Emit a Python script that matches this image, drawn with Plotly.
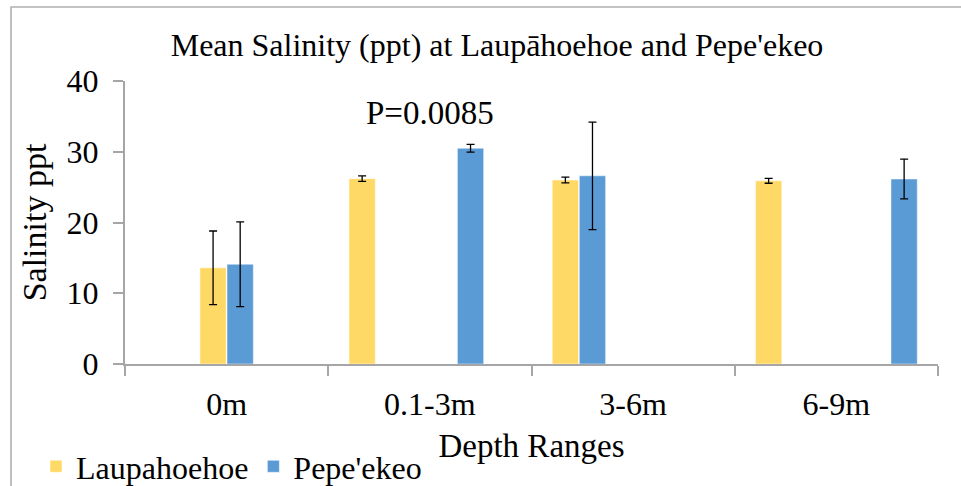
import plotly.graph_objects as go

# ---- data ----
categories = ["0m", "0.1-3m", "3-6m", "6-9m"]
laup_mean = [13.6, 26.2, 26.0, 25.9]
laup_err = [5.2, 0.4, 0.4, 0.35]
pepe_mean = [14.1, 30.5, 26.6, 26.15]
pepe_err = [6.0, 0.55, 7.6, 2.8]
# original Excel chart used 6 series slots; which slot each site's bar occupies per category
laup_slot = [2, 0, 0, 0]
pepe_slot = [3, 4, 1, 5]
n_slots = 6
y_ticks = [0, 10, 20, 30, 40]

YELLOW = "#FFD966"
BLUE = "#5B9BD5"
AXIS = "#A6A6A6"
FONT = "Liberation Serif"

fig = go.Figure()
legend_done = {"L": False, "P": False}
for s in range(n_slots):
    ys, es = [], []
    color = None
    site = None
    for i in range(len(categories)):
        if laup_slot[i] == s:
            ys.append(laup_mean[i]); es.append(laup_err[i]); color = YELLOW; site = "L"
        elif pepe_slot[i] == s:
            ys.append(pepe_mean[i]); es.append(pepe_err[i]); color = BLUE; site = "P"
        else:
            ys.append(None); es.append(None)
    name = "Laupahoehoe" if site == "L" else "Pepe'ekeo"
    show = not legend_done[site]
    legend_done[site] = True
    fig.add_trace(go.Bar(
        x=categories, y=ys, name=name, legendgroup=site, showlegend=show,
        marker=dict(color=color, line=dict(color="rgba(255,255,255,0.6)", width=0.8)),
        error_y=dict(type="data", array=es, visible=True, color="black", thickness=1.3, width=4),
        legendrank=1 if site == "L" else 2,
    ))

fig.add_annotation(x="0.1-3m", y=35.5, text="P=0.0085", showarrow=False,
                   font=dict(family=FONT, size=33, color="black"), xanchor="center", yanchor="middle")

# outer chart border (Excel chart area)
fig.add_shape(type="rect", xref="paper", yref="paper",
              x0=(11 - 125) / 813, x1=1.2, y0=-0.8, y1=(364 - 7) / 283,
              line=dict(color="#B0B0B0", width=1.6), fillcolor="rgba(0,0,0,0)", layer="below")

fig.update_layout(
    width=961, height=486,
    margin=dict(l=125, r=23, t=81, b=122, autoexpand=False),
    paper_bgcolor="white", plot_bgcolor="white",
    barmode="group", bargap=0.2, bargroupgap=0.03,
    font=dict(family=FONT, color="black", size=32),
    title=dict(text="Mean Salinity (ppt) at Laupāhoehoe and Pepe'ekeo",
               x=497 / 961, xref="container", xanchor="center",
               y=1 - 45 / 486, yref="container", yanchor="middle",
               font=dict(family=FONT, size=32, color="black")),
    showlegend=True,
    legend=dict(orientation="h", x=(36 - 125) / 813, y=(364 - 439) / 283,
                xanchor="left", yanchor="top", font=dict(family=FONT, size=32),
                bgcolor="rgba(0,0,0,0)", itemwidth=30, traceorder="normal"),
)
fig.update_xaxes(
    showline=True, linecolor=AXIS, linewidth=2, ticks="outside", tickson="boundaries",
    ticklen=10, tickcolor=AXIS, tickwidth=1.5, showgrid=False, automargin=False,
    tickfont=dict(family=FONT, size=32), ticklabelstandoff=11,
    title=dict(text="Depth Ranges", font=dict(family=FONT, size=33), standoff=12),
)
fig.update_yaxes(
    range=[0, 40], tickvals=y_ticks, showline=True, linecolor=AXIS, linewidth=2,
    ticks="outside", ticklen=10, tickcolor=AXIS, tickwidth=1.5, showgrid=False, zeroline=False,
    tickfont=dict(family=FONT, size=32), ticklabelstandoff=8, automargin=False,
    title=dict(text="Salinity ppt", font=dict(family=FONT, size=34), standoff=10),
)

fig.write_html("out.html")
